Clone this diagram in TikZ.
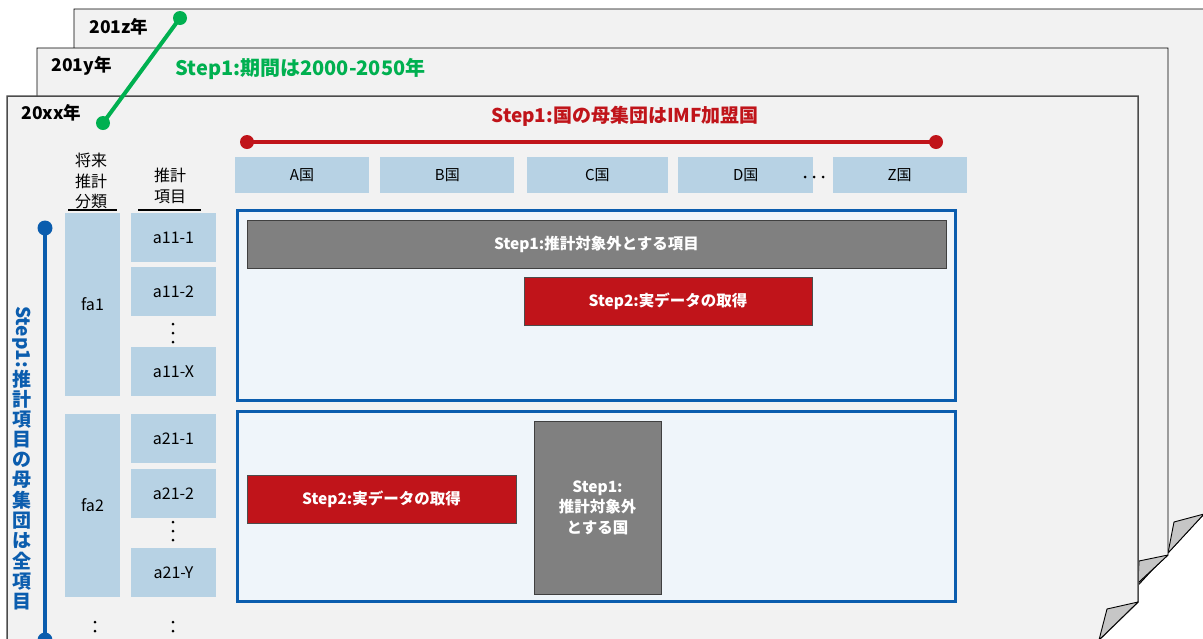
\documentclass[tikz,border=0pt]{standalone}
\usepackage{fontspec}
\setmainfont{Noto Sans CJK JP}
\usepackage{tikz}
\usetikzlibrary{positioning}

\definecolor{pagefill}{HTML}{F2F2F2}
\definecolor{flapfill}{HTML}{C6C6C6}
\definecolor{boxblue}{HTML}{B7D2E4}
\definecolor{panelfill}{HTML}{EFF5FA}
\definecolor{panelblue}{HTML}{0B5DAE}
\definecolor{stepred}{HTML}{C0141A}
\definecolor{stepgreen}{HTML}{00B050}
\definecolor{stepgray}{HTML}{808080}

\newcommand{\fsz}[1]{\fontsize{#1pt}{20.5pt}\selectfont}

\begin{document}
\begin{tikzpicture}[
  x=1pt, y=-1pt,
  page/.style={fill=pagefill, draw=black, line width=0.9},
  flap/.style={fill=flapfill, draw=black, line width=0.9, line join=round},
  yr/.style={anchor=west, font=\fsz{17.5}\bfseries},
  cbox/.style={fill=boxblue, minimum width=134, minimum height=36,
               inner sep=0, font=\fsz{15}},
  ibox/.style={fill=boxblue, minimum width=85, minimum height=49,
               inner sep=0, font=\fsz{16}},
  fbox/.style={fill=boxblue, minimum width=55, minimum height=183,
               inner sep=0, font=\fsz{16}},
  head/.style={align=center, font=\fsz{16}},
  uline/.style={line width=2},
  panel/.style={draw=panelblue, line width=3, fill=panelfill,
                minimum width=718, minimum height=190, inner sep=0},
  gbar/.style={fill=stepgray, draw=black!75, line width=1, text=white,
               inner sep=0, align=center, font=\fsz{15.5}\bfseries},
  rbar/.style={fill=stepred, draw=black!70, line width=1, text=white,
               inner sep=0, font=\fsz{15.5}\bfseries},
  sline/.style={line width=4},
  vtxt/.style={text=panelblue, inner sep=0, font=\fsz{19}\bfseries}
]
\useasboundingbox (0,0) rectangle (1203,638);
\clip (0,0) rectangle (1203,638);

% pages, back to front
\draw[page] (74,700) -- (74,9) -- (1204,9) -- (1204,514) -- (1032,700) -- cycle;
\draw[flap] (1204,514) -- (1174,522) -- (1168,553) -- cycle;
\draw[page] (37,700) -- (37,48) -- (1168,48) -- (1168,555) -- (1013,700) -- cycle;
\draw[flap] (1168,555) -- (1139,561) -- (1138,583) -- cycle;
\draw[page, draw=black!70, line width=1.5]
  (7,700) -- (7,96) -- (1138,96) -- (1138,602) -- (1037,700) -- cycle;
\draw[flap] (1138,602) -- (1107,609) -- (1099,640) -- cycle;

\node[yr] (yz) at (86,27) {201z年};
\node[yr] (yy) at (48,66) {201y年};
\node[yr] (yx) at (18,113) {20xx年};

% period (green)
\coordinate (g1) at (103,123);
\coordinate (g2) at (180,18);
\draw[sline, stepgreen] (g1) -- (g2);
\fill[stepgreen] (g1) circle (7) (g2) circle (7);
\node[anchor=west, text=stepgreen, font=\fsz{20}\bfseries] (gtxt) at (172,69)
  {Step1:期間は2000-2050年};

% countries (red)
\node[anchor=west, text=stepred, font=\fsz{19}\bfseries] (rtxt) at (488,116)
  {Step1:国の母集団はIMF加盟国};
\coordinate (r1) at (247,142);
\coordinate (r2) at (936,142);
\draw[sline, stepred] (r1) -- (r2);
\fill[stepred] (r1) circle (7) (r2) circle (7);

\node[cbox] (cA) at (302,175) {A国};
\node[cbox, right=11pt of cA] (cB) {B国};
\node[cbox, right=12pt of cB, minimum width=141] (cC) {C国};
\node[cbox, right=10pt of cC, minimum width=135] (cD) {D国};
\node[cbox, right=19pt of cD] (cZ) {Z国};
\foreach \k in {0,1,2}
  \fill (805+9*\k,177) circle (1.5);

% items (blue)
\node[head] (h1) at (91,181) {将来\\推計\\分類};
\node[head] (h2) at (170,186) {推計\\項目};
\draw[uline] (68,210) -- (117,210);
\draw[uline] (138,210) -- (201,210);

\node[fbox] (fa1) at (92.5,304.5) {fa1};
\node[ibox] (a111) at (173.5,237.5) {a11-1};
\node[ibox, below=5pt of a111] (a112) {a11-2};
\node[ibox] (a11x) at (173.5,371.5) {a11-X};
\node[fbox] (fa2) at (92.5,505.5) {fa2};
\node[ibox] (a211) at (173.5,438.5) {a21-1};
\node[ibox, below=6pt of a211] (a212) {a21-2};
\node[ibox] (a21y) at (173.5,572.5) {a21-Y};
\foreach \k in {0,1,2} {
  \fill (173,324+9*\k) circle (1.5);
  \fill (173,522+9*\k) circle (1.5);
}
\foreach \k in {0,1} {
  \fill (95,622+9*\k) circle (1.5);
  \fill (173,622+9*\k) circle (1.5);
}

\coordinate (b1) at (45,228);
\coordinate (b2) at (45,640);
\draw[sline, panelblue] (b1) -- (b2);
\fill[panelblue] (b1) circle (7.5) (b2) circle (7.5);
\node[vtxt, rotate=-90] (vstep) at (22,337) {Step1:};
\foreach \c [count=\i] in {推,計,項,目,の,母,集,団,は,全,項,目}
  \node[vtxt] (v\i) at (22,359+20.2*\i) {\c};

% panels
\node[panel] (p1) at (596.5,305.5) {};
\node[gbar, minimum width=699, minimum height=48] (x1) at (596.5,244)
  {Step1:推計対象外とする項目};
\node[rbar, minimum width=288, minimum height=48] (d1) at (668,301)
  {Step2:実データの取得};

\node[panel] (p2) at (596.5,506.5) {};
\node[rbar, minimum width=269, minimum height=48] (d2) at (381.5,499)
  {Step2:実データの取得};
\node[gbar, minimum width=127, minimum height=173] (x2) at (597.5,507.5)
  {Step1:\\推計対象外\\とする国};
\end{tikzpicture}
\end{document}
